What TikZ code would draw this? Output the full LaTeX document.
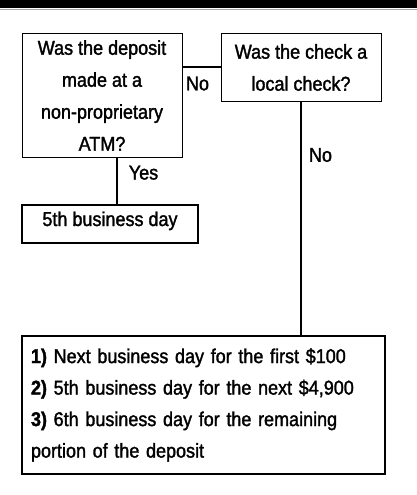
\documentclass[tikz,border=0pt]{standalone}
\usepackage{fontspec}
\setmainfont[FakeStretch=0.9, FakeBold=1.6]{Liberation Sans}
\begin{document}
\begin{tikzpicture}[x=1pt,y=-1pt,
  qbox/.style={draw, line width=1pt, inner sep=0pt, align=center,
    font=\fontsize{20}{32}\selectfont},
  abox/.style={draw, line width=2pt, inner sep=0pt},
  link/.style={line width=2pt},
  tag/.style={font=\fontsize{20}{22}\selectfont, inner sep=0pt}]
\useasboundingbox (0,0) rectangle (417,495);
% header band
\fill[black] (0,0) rectangle (417,8.5);
\draw[gray!70, line width=1pt] (0,9.5) -- (417,9.5);

% questions
\node[qbox, minimum width=160pt, minimum height=123pt] (atm) at (102,95.5)
  {Was the deposit\\made at a\\non-proprietary\\ATM?};
\node[qbox, minimum width=160pt, minimum height=67pt] (local) at (301,67.5)
  {Was the check a\\local check?};

% outcomes
\node[abox, minimum width=176pt, minimum height=38pt,
  font=\fontsize{20}{22}\selectfont, text height=14pt, text depth=10pt]
  (fifth) at (110,224) {5th business day};
\node[abox, minimum width=363pt, minimum height=138pt, text width=345pt,
  align=left, font=\fontsize{20}{31.5}\selectfont] (split) at (203.5,405)
  {\textbf{1)} Next business day for the first \$100\\
   \textbf{2)} 5th business day for the next \$4,900\\
   \textbf{3)} 6th business day for the remaining\\
   portion of the deposit};

% connectors
\coordinate (yesx) at (117,0);
\draw[link] (atm.south -| yesx) -- (fifth.north -| yesx);
\draw[link] (local.west -| atm.east) -- (local.west);
\draw[link] (local.south) -- (split.north -| local.south);

% branch labels
\node[tag] (no1) at (197.5,83.5) {No};
\node[tag] (no2) at (320.5,155) {No};
\node[tag, anchor=base] (yes) at (143.5,179.5) {Yes};
\end{tikzpicture}
\end{document}
